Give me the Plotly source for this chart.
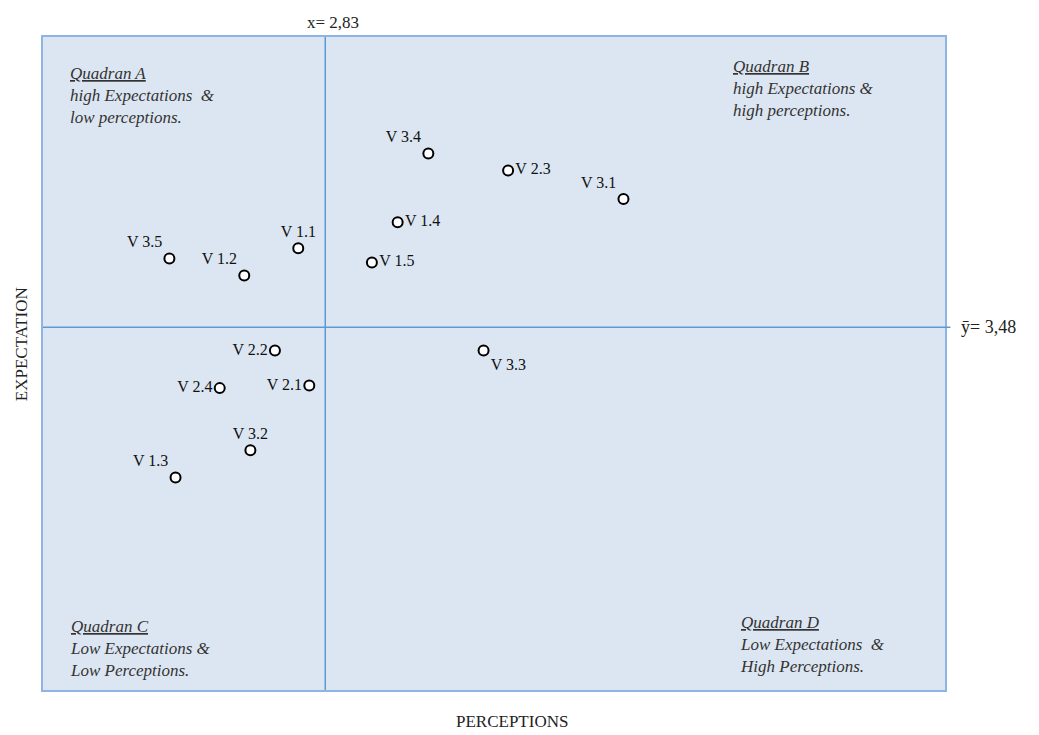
import plotly.graph_objects as go

# service attributes: perception (x) vs expectation (y)
labels = ["V 3.4", "V 2.3", "V 3.1", "V 1.4", "V 1.5", "V 1.1", "V 3.5",
          "V 1.2", "V 2.2", "V 3.3", "V 2.4", "V 2.1", "V 3.2", "V 1.3"]
perceptions = [2.914, 2.979, 3.073, 2.889, 2.868, 2.808, 2.703,
               2.764, 2.789, 2.959, 2.744, 2.817, 2.769, 2.708]
expectations = [3.614, 3.601, 3.579, 3.561, 3.530, 3.541, 3.533,
                3.520, 3.462, 3.462, 3.433, 3.435, 3.385, 3.364]
label_pos = ["top left", "middle right", "top left", "middle right", "middle right",
             "top center", "top left", "top left", "middle left", "bottom right",
             "middle left", "middle left", "top center", "top left"]

x_mean = 2.83
y_mean = 3.48
x_range = [2.60, 3.335]
y_range = [3.20, 3.704]

serif = "Liberation Serif, Times New Roman, serif"
line_blue = "#5b9bd5"

fig = go.Figure()
fig.add_trace(go.Scatter(
    x=perceptions, y=expectations, mode="markers+text",
    text=labels, textposition=label_pos,
    textfont=dict(family=serif, size=16, color="#111"),
    marker=dict(symbol="circle", size=10, color="white", line=dict(color="black", width=2)),
    cliponaxis=False, hoverinfo="text",
))

fig.add_shape(type="line", xref="x", yref="paper", x0=x_mean, x1=x_mean, y0=0, y1=1,
              line=dict(color=line_blue, width=1.5))
fig.add_shape(type="line", xref="paper", yref="y", x0=0, x1=1.006, y0=y_mean, y1=y_mean,
              line=dict(color=line_blue, width=1.5))

quad_font = dict(family=serif, size=17, color="#333")
quadrants = [
    ("<u>Quadran A</u><br>high Expectations  &<br>low perceptions.", 0.028, 0.962, "top"),
    ("<u>Quadran B</u><br>high Expectations &<br>high perceptions.", 0.763, 0.972, "top"),
    ("<u>Quadran C</u><br>Low Expectations &<br>Low Perceptions.", 0.028, 0.012, "bottom"),
    ("<u>Quadran D</u><br>Low Expectations  &<br>High Perceptions.", 0.770, 0.018, "bottom"),
]
for txt, qx, qy, anchor in quadrants:
    fig.add_annotation(text=f"<i>{txt}</i>", xref="paper", yref="paper", x=qx, y=qy,
                       xanchor="left", yanchor=anchor, align="left",
                       showarrow=False, font=quad_font)

fig.add_annotation(text="x= 2,83", xref="x", yref="paper", x=x_mean, xshift=8, y=1.0, yshift=3,
                   xanchor="center", yanchor="bottom", showarrow=False,
                   font=dict(family=serif, size=17, color="#222"))
fig.add_annotation(text="ȳ= 3,48", xref="paper", yref="y", x=1.0, xshift=14, y=y_mean,
                   xanchor="left", yanchor="middle", showarrow=False,
                   font=dict(family=serif, size=18, color="#222"))
fig.add_annotation(text="PERCEPTIONS", xref="paper", yref="paper", x=0.52, y=-0.049,
                   xanchor="center", yanchor="middle", showarrow=False,
                   font=dict(family=serif, size=17, color="#222"))
fig.add_annotation(text="EXPECTATION", xref="paper", yref="paper", x=-0.023, y=0.53,
                   xanchor="center", yanchor="middle", textangle=-90, showarrow=False,
                   font=dict(family=serif, size=17, color="#222"))

fig.update_xaxes(range=x_range, showgrid=False, zeroline=False, showticklabels=False,
                 showline=True, linecolor="#8eb4e3", linewidth=1.5, mirror=True, ticks="")
fig.update_yaxes(range=y_range, showgrid=False, zeroline=False, showticklabels=False,
                 showline=True, linecolor="#8eb4e3", linewidth=1.5, mirror=True, ticks="")
# page body adds an 8px margin, so size the figure to fit the window
fig.update_layout(
    width=1031, height=727, showlegend=False,
    margin=dict(l=35, r=94, t=29, b=45),
    plot_bgcolor="#dce6f2", paper_bgcolor="white",
)

fig.write_html("out.html")
